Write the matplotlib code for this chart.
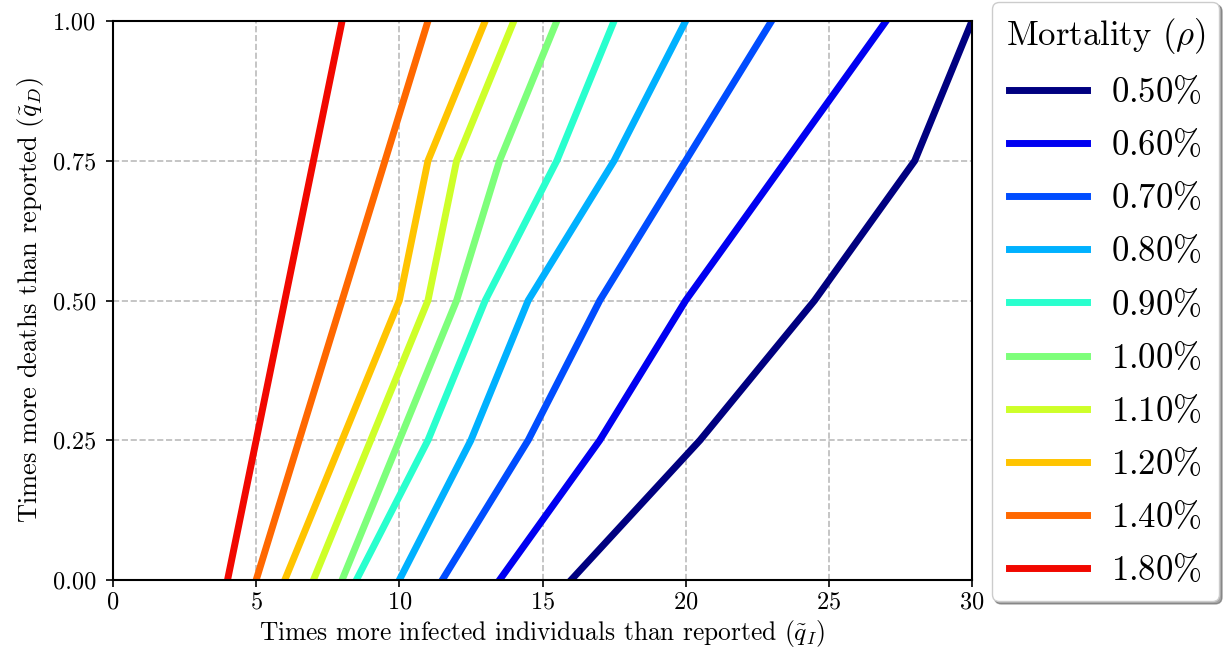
# mortality_lines.py
# 報告数より何倍多いか（感染者 vs 死亡者）を致死率ごとに描画

import numpy as np
import matplotlib.pyplot as plt

# ===== データ =====
q_D = [0.0, 0.25, 0.50, 0.75, 1.00]   # 死亡者の倍率 (y)

mortality_labels = ["0.50", "0.60", "0.70", "0.80", "0.90",
                    "1.00", "1.10", "1.20", "1.40", "1.80"]

# 各致死率での感染者の倍率 (x)、q_D の各点に対応
q_I_050 = [16.0, 20.5, 24.5, 28.0, 30.0]
q_I_060 = [13.5, 17.0, 20.0, 23.5, 27.0]
q_I_070 = [11.5, 14.5, 17.0, 20.0, 23.0]
q_I_080 = [10.0, 12.5, 14.5, 17.5, 20.0]
q_I_090 = [8.5, 11.0, 13.0, 15.5, 17.5]
q_I_100 = [8.0, 10.0, 12.0, 13.5, 15.5]
q_I_110 = [7.0, 9.0, 11.0, 12.0, 14.0]
q_I_120 = [6.0, 8.0, 10.0, 11.0, 13.0]
q_I_140 = [5.0, 6.5, 8.0, 9.5, 11.0]
q_I_180 = [4.0, 5.0, 6.0, 7.0, 8.0]

series = [q_I_050, q_I_060, q_I_070, q_I_080, q_I_090,
          q_I_100, q_I_110, q_I_120, q_I_140, q_I_180]
# ==================

plt.rcParams["font.family"] = "serif"
plt.rcParams["font.serif"] = ["cmr10"]
plt.rcParams["mathtext.fontset"] = "cm"
plt.rcParams["axes.formatter.use_mathtext"] = True


def main():
    fig = plt.figure(figsize=(12.27, 6.62), dpi=100)
    ax = fig.add_axes([113 / 1227, 1 - 580 / 662, 859 / 1227, 559 / 662])

    colors = plt.cm.jet(np.arange(len(series)) / 10)
    for xs, lab, c in zip(series, mortality_labels, colors):
        ax.plot(xs, q_D, color=c, lw=5, label=r"$%s\%%$" % lab)

    ax.set_xlim(0, 30)
    ax.set_ylim(0, 1)
    ax.set_xticks([0, 5, 10, 15, 20, 25, 30])
    ax.set_yticks([0, 0.25, 0.5, 0.75, 1.0])
    ax.set_yticklabels(["0.00", "0.25", "0.50", "0.75", "1.00"])
    ax.tick_params(labelsize=17.5, length=5, width=1.2)
    ax.tick_params(axis="y", pad=7)
    for s in ax.spines.values():
        s.set_linewidth(1.5)
    ax.grid(True, linestyle="--", color="#bbbbbb", lw=1.2)

    ax.set_xlabel(r"Times more infected individuals than reported ($\tilde{q}_I$)",
                  fontsize=18.3, labelpad=3)
    ax.set_ylabel(r"Times more deaths than reported ($\tilde{q}_D$)",
                  fontsize=19, labelpad=5)

    leg = ax.legend(loc="upper left", bbox_to_anchor=(1.023, 1.034),
                    fontsize=25, title=r"Mortality ($\rho$)", title_fontsize=25,
                    shadow=True, fancybox=True, framealpha=1,
                    handlelength=2.25, handletextpad=0.7, borderpad=0.4,
                    borderaxespad=0, labelspacing=0.58)
    leg.get_frame().set_edgecolor("#cccccc")

    fig.savefig("out.png", dpi=100)


if __name__ == "__main__":
    main()
